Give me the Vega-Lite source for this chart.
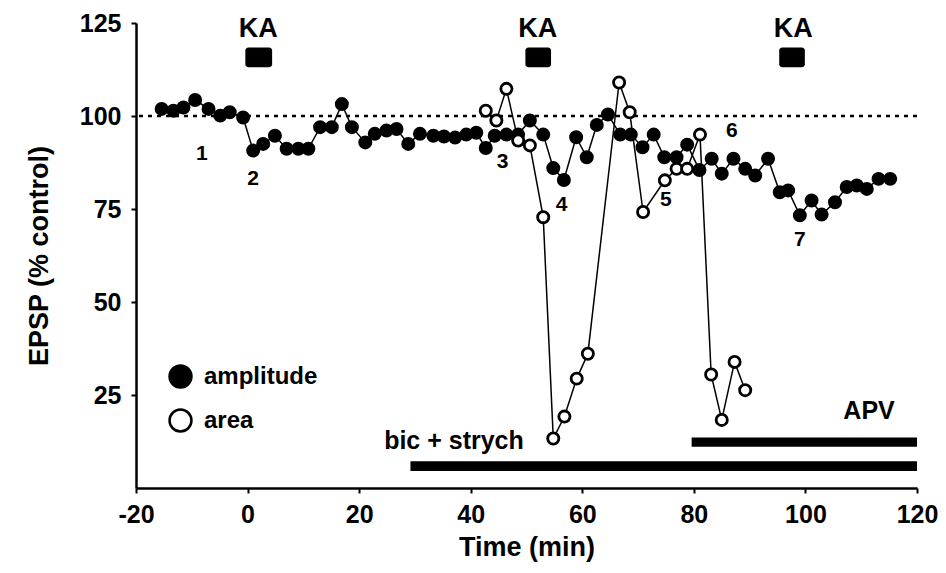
{
  "$schema": "https://vega.github.io/schema/vega-lite/v6.json",
  "width": 781,
  "height": 465,
  "autosize": "none",
  "padding": {"left": 136, "top": 23, "right": 29, "bottom": 85},
  "background": "white",
  "config": {
    "view": {"stroke": null},
    "font": "Liberation Sans",
    "axis": {
      "grid": false,
      "domainColor": "black",
      "domainWidth": 2.5,
      "tickColor": "black",
      "tickWidth": 2,
      "tickSize": 5,
      "labelFont": "Liberation Sans",
      "labelFontSize": 25,
      "labelFontWeight": "bold",
      "labelColor": "black",
      "titleFont": "Liberation Sans",
      "titleFontSize": 27,
      "titleFontWeight": "bold",
      "titleColor": "black"
    }
  },
  "datasets": {
    "pts": [
      {"t": -15.4, "v": 101.9, "series": "amplitude"},
      {"t": -13.3, "v": 101.4, "series": "amplitude"},
      {"t": -11.5, "v": 102.3, "series": "amplitude"},
      {"t": -9.4, "v": 104.3, "series": "amplitude"},
      {"t": -7.0, "v": 101.9, "series": "amplitude"},
      {"t": -4.9, "v": 100.1, "series": "amplitude"},
      {"t": -3.2, "v": 101.0, "series": "amplitude"},
      {"t": -0.8, "v": 99.6, "series": "amplitude"},
      {"t": 1.0, "v": 90.7, "series": "amplitude"},
      {"t": 2.8, "v": 92.5, "series": "amplitude"},
      {"t": 4.9, "v": 94.7, "series": "amplitude"},
      {"t": 7.0, "v": 91.2, "series": "amplitude"},
      {"t": 9.1, "v": 91.2, "series": "amplitude"},
      {"t": 10.9, "v": 91.2, "series": "amplitude"},
      {"t": 13.0, "v": 97.0, "series": "amplitude"},
      {"t": 15.1, "v": 97.0, "series": "amplitude"},
      {"t": 16.9, "v": 103.2, "series": "amplitude"},
      {"t": 18.7, "v": 97.0, "series": "amplitude"},
      {"t": 21.1, "v": 92.9, "series": "amplitude"},
      {"t": 22.8, "v": 95.2, "series": "amplitude"},
      {"t": 24.9, "v": 96.1, "series": "amplitude"},
      {"t": 26.7, "v": 96.5, "series": "amplitude"},
      {"t": 28.8, "v": 92.5, "series": "amplitude"},
      {"t": 30.9, "v": 95.2, "series": "amplitude"},
      {"t": 33.3, "v": 94.7, "series": "amplitude"},
      {"t": 35.2, "v": 94.5, "series": "amplitude"},
      {"t": 37.2, "v": 94.2, "series": "amplitude"},
      {"t": 39.2, "v": 95.0, "series": "amplitude"},
      {"t": 41.0, "v": 95.5, "series": "amplitude"},
      {"t": 42.7, "v": 91.4, "series": "amplitude"},
      {"t": 44.3, "v": 94.7, "series": "amplitude"},
      {"t": 46.4, "v": 95.0, "series": "amplitude"},
      {"t": 48.5, "v": 95.0, "series": "amplitude"},
      {"t": 50.6, "v": 98.8, "series": "amplitude"},
      {"t": 53.0, "v": 95.0, "series": "amplitude"},
      {"t": 54.8, "v": 86.0, "series": "amplitude"},
      {"t": 56.7, "v": 82.8, "series": "amplitude"},
      {"t": 58.9, "v": 94.3, "series": "amplitude"},
      {"t": 60.8, "v": 88.9, "series": "amplitude"},
      {"t": 62.6, "v": 97.6, "series": "amplitude"},
      {"t": 64.6, "v": 100.4, "series": "amplitude"},
      {"t": 66.8, "v": 95.0, "series": "amplitude"},
      {"t": 68.7, "v": 95.0, "series": "amplitude"},
      {"t": 70.8, "v": 91.6, "series": "amplitude"},
      {"t": 72.8, "v": 95.0, "series": "amplitude"},
      {"t": 74.7, "v": 88.9, "series": "amplitude"},
      {"t": 76.9, "v": 88.9, "series": "amplitude"},
      {"t": 78.8, "v": 92.3, "series": "amplitude"},
      {"t": 81.0, "v": 85.5, "series": "amplitude"},
      {"t": 83.2, "v": 88.5, "series": "amplitude"},
      {"t": 85.0, "v": 84.5, "series": "amplitude"},
      {"t": 87.1, "v": 88.5, "series": "amplitude"},
      {"t": 89.2, "v": 85.8, "series": "amplitude"},
      {"t": 91.0, "v": 84.0, "series": "amplitude"},
      {"t": 93.3, "v": 88.5, "series": "amplitude"},
      {"t": 95.4, "v": 79.5, "series": "amplitude"},
      {"t": 96.9, "v": 80.0, "series": "amplitude"},
      {"t": 99.0, "v": 73.3, "series": "amplitude"},
      {"t": 101.1, "v": 77.3, "series": "amplitude"},
      {"t": 102.9, "v": 73.5, "series": "amplitude"},
      {"t": 105.3, "v": 76.8, "series": "amplitude"},
      {"t": 107.4, "v": 80.9, "series": "amplitude"},
      {"t": 109.2, "v": 81.3, "series": "amplitude"},
      {"t": 111.0, "v": 80.4, "series": "amplitude"},
      {"t": 113.1, "v": 83.1, "series": "amplitude"},
      {"t": 115.2, "v": 83.1, "series": "amplitude"},
      {"t": 42.7, "v": 101.4, "series": "area"},
      {"t": 44.6, "v": 98.8, "series": "area"},
      {"t": 46.4, "v": 107.3, "series": "area"},
      {"t": 48.5, "v": 93.4, "series": "area"},
      {"t": 50.6, "v": 92.1, "series": "area"},
      {"t": 53.0, "v": 72.8, "series": "area"},
      {"t": 54.8, "v": 13.3, "series": "area"},
      {"t": 56.8, "v": 19.2, "series": "area"},
      {"t": 59.0, "v": 29.4, "series": "area"},
      {"t": 61.0, "v": 36.1, "series": "area"},
      {"t": 66.6, "v": 109.0, "series": "area"},
      {"t": 68.5, "v": 101.0, "series": "area"},
      {"t": 70.9, "v": 74.2, "series": "area"},
      {"t": 74.8, "v": 82.7, "series": "area"},
      {"t": 76.9, "v": 85.8, "series": "area"},
      {"t": 78.8, "v": 85.8, "series": "area"},
      {"t": 81.1, "v": 95.0, "series": "area"},
      {"t": 83.1, "v": 30.5, "series": "area"},
      {"t": 85.0, "v": 18.3, "series": "area"},
      {"t": 87.3, "v": 33.9, "series": "area"},
      {"t": 89.2, "v": 26.3, "series": "area"}
    ],
    "numlabels": [
      {"t": -8.2, "v": 89.8, "label": "1"},
      {"t": 1.0, "v": 83.1, "label": "2"},
      {"t": 45.7, "v": 87.6, "label": "3"},
      {"t": 56.3, "v": 76.0, "label": "4"},
      {"t": 75.0, "v": 77.3, "label": "5"},
      {"t": 86.8, "v": 96.1, "label": "6"},
      {"t": 99.0, "v": 66.6, "label": "7"}
    ],
    "ka": [
      {"t0": -0.4, "t1": 4.4, "v0": 113.1, "v1": 118.4, "tc": 1.9, "vt": 121.3, "label": "KA"},
      {"t0": 49.8, "t1": 54.4, "v0": 113.1, "v1": 118.4, "tc": 52.0, "vt": 121.3, "label": "KA"},
      {"t0": 95.3, "t1": 99.9, "v0": 113.1, "v1": 118.4, "tc": 97.8, "vt": 121.3, "label": "KA"}
    ],
    "bars": [
      {"t0": 29.2, "t1": 120, "v0": 4.6, "v1": 7.2, "label": "bic + strych", "lt": 37.0, "lv": 12.6},
      {"t0": 79.6, "t1": 120, "v0": 11.1, "v1": 13.6, "label": "APV", "lt": 111.4, "lv": 20.7}
    ]
  },
  "layer": [
    {
      "data": {"values": [{"ref": 100}]},
      "mark": {"type": "rule", "color": "black", "strokeWidth": 2.5, "strokeDash": [4, 5]},
      "encoding": {"y": {"field": "ref", "type": "quantitative"}}
    },
    {
      "data": {"name": "bars"},
      "mark": {"type": "rect", "color": "black"},
      "encoding": {
        "x": {"field": "t0", "type": "quantitative"},
        "x2": {"field": "t1"},
        "y": {"field": "v0", "type": "quantitative"},
        "y2": {"field": "v1"}
      }
    },
    {
      "data": {"name": "bars"},
      "mark": {"type": "text", "font": "Liberation Sans", "fontWeight": "bold", "fontSize": 25, "color": "black", "baseline": "middle", "align": "center"},
      "encoding": {
        "x": {"field": "lt", "type": "quantitative"},
        "y": {"field": "lv", "type": "quantitative"},
        "text": {"field": "label"}
      }
    },
    {
      "data": {"name": "ka"},
      "mark": {"type": "rect", "color": "black", "cornerRadius": 3},
      "encoding": {
        "x": {"field": "t0", "type": "quantitative"},
        "x2": {"field": "t1"},
        "y": {"field": "v0", "type": "quantitative"},
        "y2": {"field": "v1"}
      }
    },
    {
      "data": {"name": "ka"},
      "mark": {"type": "text", "font": "Liberation Sans", "fontWeight": "bold", "fontSize": 27, "color": "black", "baseline": "alphabetic", "align": "center"},
      "encoding": {
        "x": {"field": "tc", "type": "quantitative"},
        "y": {"field": "vt", "type": "quantitative"},
        "text": {"field": "label"}
      }
    },
    {
      "data": {"name": "pts"},
      "mark": {"type": "line", "color": "black", "strokeWidth": 1.5},
      "encoding": {
        "x": {"field": "t", "type": "quantitative"},
        "y": {"field": "v", "type": "quantitative"},
        "detail": {"field": "series"}
      }
    },
    {
      "data": {"name": "pts"},
      "mark": {"type": "point", "shape": "circle", "stroke": "black", "strokeWidth": 2.8, "opacity": 1, "size": 125, "filled": true},
      "encoding": {
        "x": {
          "field": "t", "type": "quantitative",
          "scale": {"domain": [-20, 120], "nice": false, "zero": false},
          "axis": {"values": [-20, 0, 20, 40, 60, 80, 100, 120], "title": "Time (min)", "labelPadding": 9, "titlePadding": 7, "labelFlush": false, "labelExpr": "'' + datum.value"}
        },
        "y": {
          "field": "v", "type": "quantitative",
          "scale": {"domain": [0, 125], "nice": false},
          "axis": {"values": [25, 50, 75, 100, 125], "title": "EPSP (% control)", "labelPadding": 10, "titlePadding": 26}
        },
        "fill": {
          "field": "series", "type": "nominal",
          "scale": {"domain": ["amplitude", "area"], "range": ["black", "white"]},
          "legend": {
            "title": null,
            "orient": "none",
            "legendX": 32,
            "legendY": 341,
            "symbolType": "circle",
            "symbolSize": 480,
            "symbolStrokeColor": "black",
            "symbolStrokeWidth": 2.5,
            "labelFont": "Liberation Sans",
            "labelFontSize": 24,
            "labelFontWeight": "bold",
            "labelColor": "black",
            "labelOffset": 11,
            "rowPadding": 11,
            "padding": 0
          }
        }
      }
    },
    {
      "data": {"name": "numlabels"},
      "mark": {"type": "text", "font": "Liberation Sans", "fontWeight": "bold", "fontSize": 21, "color": "black", "baseline": "middle", "align": "center"},
      "encoding": {
        "x": {"field": "t", "type": "quantitative"},
        "y": {"field": "v", "type": "quantitative"},
        "text": {"field": "label"}
      }
    }
  ]
}
